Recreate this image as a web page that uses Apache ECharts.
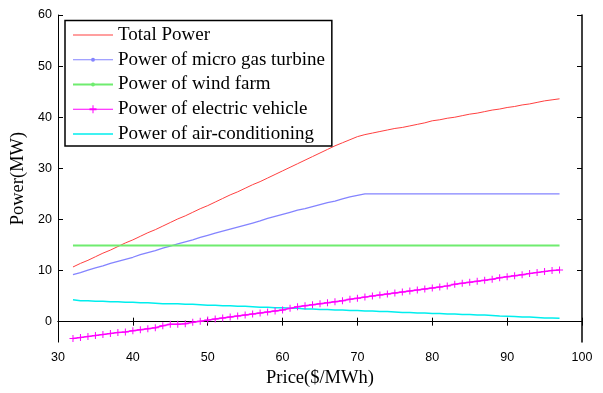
<!DOCTYPE html>
<html><head><meta charset="utf-8">
<script src="https://cdn.jsdelivr.net/npm/echarts@6/dist/echarts.min.js"></script>
<style>html,body{margin:0;padding:0;background:#fff}#c{width:603px;height:393px}</style>
</head><body><div id="c"></div><script>
const price = [32,33,34,35,36,37,38,39,40,41,42,43,44,45,46,47,48,49,50,51,52,53,54,55,56,57,58,59,60,61,62,63,64,65,66,67,68,69,70,71,72,73,74,75,76,77,78,79,80,81,82,83,84,85,86,87,88,89,90,91,92,93,94,95,96,97];
const totalPower = [10.7,11.4,12.0,12.7,13.4,14.0,14.7,15.4,16.0,16.7,17.4,18.0,18.7,19.4,20.1,20.7,21.4,22.1,22.7,23.4,24.1,24.8,25.4,26.1,26.8,27.4,28.1,28.8,29.5,30.2,30.9,31.6,32.3,33.0,33.7,34.4,35.0,35.6,36.2,36.6,36.9,37.2,37.5,37.8,38.0,38.3,38.6,38.9,39.3,39.5,39.8,40.0,40.3,40.6,40.8,41.1,41.4,41.6,41.9,42.1,42.4,42.6,42.9,43.2,43.4,43.6];
const gasTurbine = [9.2,9.6,10.1,10.5,10.9,11.4,11.8,12.2,12.6,13.1,13.5,13.9,14.4,14.8,15.2,15.6,16.0,16.5,16.9,17.3,17.7,18.1,18.5,18.9,19.3,19.7,20.2,20.6,21.0,21.4,21.8,22.1,22.5,22.9,23.3,23.6,24.0,24.4,24.7,25.0,25.0,25.0,25.0,25.0,25.0,25.0,25.0,25.0,25.0,25.0,25.0,25.0,25.0,25.0,25.0,25.0,25.0,25.0,25.0,25.0,25.0,25.0,25.0,25.0,25.0,25.0];
const windFarm = [14.9,14.9,14.9,14.9,14.9,14.9,14.9,14.9,14.9,14.9,14.9,14.9,14.9,14.9,14.9,14.9,14.9,14.9,14.9,14.9,14.9,14.9,14.9,14.9,14.9,14.9,14.9,14.9,14.9,14.9,14.9,14.9,14.9,14.9,14.9,14.9,14.9,14.9,14.9,14.9,14.9,14.9,14.9,14.9,14.9,14.9,14.9,14.9,14.9,14.9,14.9,14.9,14.9,14.9,14.9,14.9,14.9,14.9,14.9,14.9,14.9,14.9,14.9,14.9,14.9,14.9];
const electricVehicle = [-3.3,-3.1,-2.9,-2.7,-2.5,-2.3,-2.1,-2.0,-1.8,-1.6,-1.4,-1.2,-0.8,-0.5,-0.5,-0.4,-0.1,0.1,0.3,0.5,0.7,0.9,1.1,1.3,1.5,1.7,1.9,2.1,2.3,2.6,2.9,3.1,3.3,3.5,3.7,3.9,4.1,4.4,4.6,4.8,5.0,5.2,5.4,5.6,5.8,6.0,6.2,6.4,6.6,6.8,7.0,7.3,7.5,7.7,7.9,8.1,8.3,8.6,8.8,9.0,9.2,9.4,9.6,9.8,10.0,10.1];
const airConditioning = [4.3,4.1,4.1,4.0,4.0,3.9,3.9,3.8,3.8,3.7,3.7,3.6,3.5,3.5,3.5,3.4,3.4,3.3,3.2,3.2,3.1,3.1,3.0,3.0,2.9,2.8,2.8,2.7,2.7,2.6,2.6,2.5,2.5,2.4,2.4,2.3,2.3,2.2,2.2,2.1,2.1,2.0,2.0,1.9,1.8,1.8,1.7,1.7,1.6,1.6,1.5,1.5,1.4,1.4,1.3,1.3,1.2,1.1,1.05,1.0,0.9,0.9,0.8,0.7,0.7,0.65];
const yTicks = [0,10,20,30,40,50,60];
const seriesNames = ['Total Power','Power of micro gas turbine','Power of wind farm','Power of electric vehicle','Power of air-conditioning'];

const pair = arr => price.map((p,i)=>[p, arr[i]]);
const serif = "'Liberation Serif','Times New Roman',serif";
const sans = "'Liberation Sans',Arial,sans-serif";

const chart = echarts.init(document.getElementById('c'), null, {renderer:'canvas'});
const axLine = {show:true, lineStyle:{color:'#000', width:1}};
chart.setOption({
  animation:false,
  backgroundColor:'#fff',
  grid:{left:58, right:21, top:15, bottom:50},
  xAxis:[
    {type:'value', min:30, max:100, interval:10, position:'bottom',
     axisLine:axLine, axisTick:{inside:true, length:4, lineStyle:{color:'#000'}},
     axisLabel:{color:'#000', fontFamily:sans, fontSize:12.5, margin:9},
     splitLine:{show:false},
     name:'Price($/MWh)', nameLocation:'middle', nameGap:23,
     nameTextStyle:{color:'#000', fontFamily:serif, fontSize:18.5}},
    {type:'value', min:30, max:100, interval:10, position:'top',
     axisLine:axLine, axisTick:{inside:true, length:4, lineStyle:{color:'#000'}},
     axisLabel:{show:false}, splitLine:{show:false}}
  ],
  yAxis:[
    {type:'value', min:-4, max:60, position:'left',
     axisLine:axLine, axisTick:{inside:true, length:5, customValues:yTicks, lineStyle:{color:'#000'}},
     axisLabel:{color:'#000', fontFamily:sans, fontSize:12.5, margin:6, customValues:yTicks},
     splitLine:{show:false},
     name:'Power(MW)', nameLocation:'middle', nameGap:24,
     nameTextStyle:{color:'#000', fontFamily:serif, fontSize:18.5}},
    {type:'value', min:-4, max:60, position:'right',
     axisLine:{show:true, lineStyle:{color:'#000', width:1.5}},
     axisTick:{inside:true, length:5, customValues:yTicks, lineStyle:{color:'#000'}},
     axisLabel:{show:false, customValues:yTicks}, splitLine:{show:false}}
  ],
  legend:{
    orient:'vertical', left:65, top:20.5,
    padding:[5,7,2.5,8], itemWidth:40, itemHeight:14, itemGap:5.75,
    backgroundColor:'#fff', borderColor:'#000', borderWidth:1.5, borderRadius:0,
    textStyle:{color:'#000', fontFamily:serif, fontSize:19, lineHeight:19},
    data:[
      {name:seriesNames[0], icon:'path://M0,0H40V1H0Z'},
      {name:seriesNames[1], icon:'path://M0,2H40V3H0Z M22,2.5A2,2,0,1,1,18,2.5A2,2,0,1,1,22,2.5Z'},
      {name:seriesNames[2], icon:'path://M0,1.5H40V3.5H0Z M22,2.5A2,2,0,1,1,18,2.5A2,2,0,1,1,22,2.5Z'},
      {name:seriesNames[3], icon:'path://M0,3.5H40V4.5H0Z M19.5,0H20.5V8H19.5Z M16.5,3H23.5V5H16.5Z'},
      {name:seriesNames[4], icon:'path://M0,0H40V1.5H0Z'}
    ]
  },
  series:[
    {name:seriesNames[0], type:'line', data:pair(totalPower), color:'#ff4040',
     symbol:'none', lineStyle:{width:1, color:'#ff4040'}},
    {name:seriesNames[1], type:'line', data:pair(gasTurbine), color:'#8484ff',
     symbol:'none', lineStyle:{width:1.3, color:'#8484ff'}},
    {name:seriesNames[2], type:'line', data:pair(windFarm), color:'#6fec6f',
     symbol:'none', lineStyle:{width:2, color:'#6fec6f'}},
    {name:seriesNames[3], type:'line', data:pair(electricVehicle), color:'#ff00ff', z:5,
     symbol:'path://M3,0H4V7H3Z M0,3H7V4H0Z', symbolSize:7, showSymbol:true,
     itemStyle:{color:'#ff00ff'}, lineStyle:{width:1.5, color:'#ff00ff'}},
    {name:seriesNames[4], type:'line', data:pair(airConditioning), color:'#00eeee',
     symbol:'none', lineStyle:{width:1.5, color:'#00eeee'}}
  ]
});
</script></body></html>
